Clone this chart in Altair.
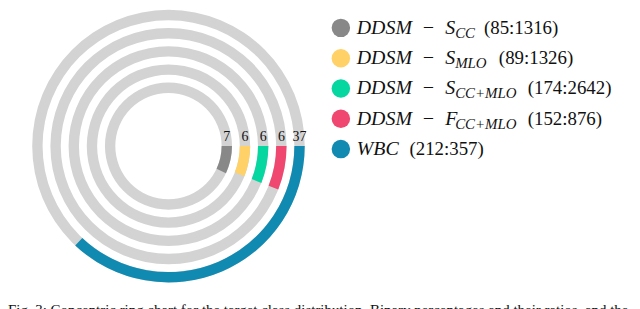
import math
import altair as alt
import pandas as pd

# ---- data ----
percent = [7, 6, 6, 6, 37]
ring_colors = ["#888888", "#ffd166", "#06d6a0", "#ef476f", "#118ab2"]
legend_main = ["DDSM\u2002−\u2002S", "DDSM\u2002−\u2002S", "DDSM\u2002−\u2002S",
               "DDSM\u2002−\u2002F", "WBC"]
legend_sub = ["CC", "MLO", "CC+MLO", "CC+MLO", ""]
legend_ratio = ["(85:1316)", "(89:1326)", "(174:2642)", "(152:876)", "(212:357)"]
caption = ("Fig. 3: Concentric ring chart for the target class distribution. "
           "Binary percentages and their ratios, and the")

# ---- layout (not data) ----
THICK = 0.57
sub_x = [131, 131, 131, 131, 0]
ratio_x = [160, 175, 204, 204, 85]

n = len(percent)
rings = pd.DataFrame({
    "ring": list(range(n)),
    "pct": percent,
    "color": ring_colors,
    "label": [str(p) for p in percent],
})
rings["r_in"] = rings["ring"]
rings["r_out"] = rings["ring"] + THICK
rings["r_mid"] = rings["ring"] + THICK / 2
rings["zero"] = 0
rings["full"] = 100

theta_scale = alt.Scale(domain=[0, 100], range=[math.pi / 2, math.pi / 2 + 2 * math.pi])
r_scale = alt.Scale(type="linear", domain=[0, 5], range=[53.5, 145], zero=False)

base = alt.Chart(rings)
bg = base.mark_arc(color="#d3d3d3").encode(
    theta=alt.Theta("zero:Q", scale=theta_scale, stack=None),
    theta2="full:Q",
    radius=alt.Radius("r_in:Q", scale=r_scale),
    radius2="r_out:Q",
)
fg = base.mark_arc().encode(
    theta=alt.Theta("zero:Q", scale=theta_scale, stack=None),
    theta2="pct:Q",
    radius=alt.Radius("r_in:Q", scale=r_scale),
    radius2="r_out:Q",
    color=alt.Color("color:N", scale=None),
)
labels = base.mark_text(font="Liberation Serif", fontSize=14, dy=-9, color="#111").encode(
    theta=alt.Theta("zero:Q", scale=theta_scale, stack=None),
    radius=alt.Radius("r_mid:Q", scale=r_scale),
    text="label:N",
)
cap = alt.Chart(pd.DataFrame({"t": [caption]})).mark_text(
    align="left", baseline="alphabetic", font="Liberation Serif", fontSize=15, color="#111"
).encode(x=alt.value(-4), y=alt.value(308), text="t:N")

left = alt.layer(bg, fg, labels, cap).properties(width=315, height=276)

leg = pd.DataFrame({
    "row": list(range(n)),
    "main": legend_main,
    "sub": legend_sub,
    "ratio": legend_ratio,
    "color": ring_colors,
    "sub_x": sub_x,
    "ratio_x": ratio_x,
})
y_enc = alt.Y("row:Q", scale=alt.Scale(domain=[0, n - 1], range=[19, 141]), axis=None)
lbase = alt.Chart(leg)
dots = lbase.mark_circle(size=346, opacity=1).encode(
    x=alt.value(16), y=y_enc, color=alt.Color("color:N", scale=None)
)
t_main = lbase.mark_text(align="left", baseline="middle", font="Liberation Serif",
                         fontStyle="italic", fontSize=20, color="#111").encode(
    x=alt.value(32), y=y_enc, text="main:N")
t_sub = lbase.mark_text(align="left", baseline="middle", font="Liberation Serif",
                        fontStyle="italic", fontSize=15, dy=5, color="#111").encode(
    x=alt.X("sub_x:Q", scale=None), y=y_enc, text="sub:N")
t_ratio = lbase.mark_text(align="left", baseline="middle", font="Liberation Serif",
                          fontSize=19, color="#111").encode(
    x=alt.X("ratio_x:Q", scale=None), y=y_enc, text="ratio:N")
legend = alt.layer(dots, t_main, t_sub, t_ratio).properties(width=309, height=276)

chart = alt.hconcat(left, legend, spacing=0, bounds="flush").properties(
    padding=0
).configure_view(stroke=None)

chart.save("out.html", embed_options={"renderer": "svg", "actions": False})
